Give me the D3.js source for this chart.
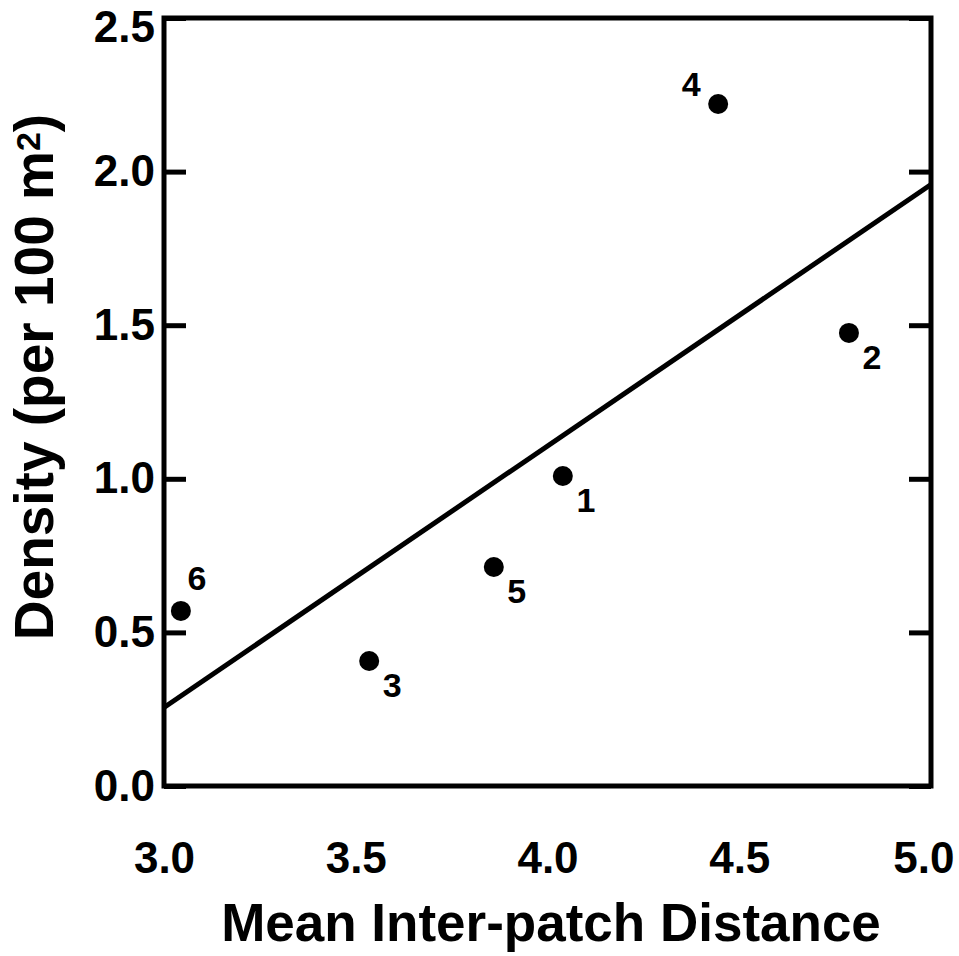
<!DOCTYPE html>
<html>
<head>
<meta charset="utf-8">
<script src="https://cdn.jsdelivr.net/npm/d3@7"></script>
<style>
  html, body { margin: 0; padding: 0; background: #fff; }
  svg { display: block; }
  text { font-family: "Liberation Sans", Arial, sans-serif; font-weight: bold; fill: #000; }
</style>
</head>
<body>
<script>
// ---- data ----
const siteIds   = ["1", "2", "3", "4", "5", "6"];
const distance  = [4.04, 4.786, 3.535, 4.445, 3.86, 3.044];
const density   = [1.009, 1.475, 0.407, 2.22, 0.713, 0.57];
const labelSide = ["se", "se", "se", "nw", "se", "ne"];
const xTicks    = [3.0, 3.5, 4.0, 4.5, 5.0];
const yTicks    = [0.0, 0.5, 1.0, 1.5, 2.0, 2.5];
const xTitle    = "Mean Inter-patch Distance";
const yTitle    = "Density (per 100 m";

const W = 959, H = 956;
const m = { left: 164, right: 28, top: 18, bottom: 170 };
const pw = W - m.left - m.right, ph = H - m.top - m.bottom;

const svg = d3.select("body").append("svg").attr("width", W).attr("height", H);
const g = svg.append("g").attr("transform", `translate(${m.left},${m.top})`);

const x = d3.scaleLinear().domain([3.0, 5.0]).range([0, pw]);
const y = d3.scaleLinear().domain([0.0, 2.5]).range([ph, 0]);

// least-squares fit
const n = distance.length;
const mx = d3.mean(distance), my = d3.mean(density);
let sxy = 0, sxx = 0;
for (let i = 0; i < n; i++) { sxy += (distance[i]-mx)*(density[i]-my); sxx += (distance[i]-mx)**2; }
const slope = sxy / sxx, intercept = my - slope * mx;

// frame
g.append("rect").attr("x", 0).attr("y", 0).attr("width", pw).attr("height", ph)
  .attr("fill", "none").attr("stroke", "#000").attr("stroke-width", 5);

// left axis
const yAxisL = g.append("g").call(d3.axisLeft(y).tickValues(yTicks).tickFormat(d3.format(".1f"))
  .tickSize(-22).tickPadding(9));
yAxisL.select(".domain").remove();
yAxisL.selectAll("line").attr("stroke", "#000").attr("stroke-width", 5);
yAxisL.selectAll("text").attr("font-size", 44).attr("font-family", "Liberation Sans, Arial, sans-serif")
  .attr("font-weight", "bold").attr("fill", "#000")
  .attr("transform", d => y(d) < 9 ? `translate(0,${9 - y(d)})` : null);

// right axis ticks
const yAxisR = g.append("g").attr("transform", `translate(${pw},0)`)
  .call(d3.axisRight(y).tickValues(yTicks).tickSize(-22).tickFormat(""));
yAxisR.select(".domain").remove();
yAxisR.selectAll("line").attr("stroke", "#000").attr("stroke-width", 5);

// bottom axis labels
const xAxis = g.append("g").attr("transform", `translate(0,${ph})`)
  .call(d3.axisBottom(x).tickValues(xTicks).tickFormat(d3.format(".1f")).tickSize(0).tickPadding(56));
xAxis.select(".domain").remove();
xAxis.selectAll("text").attr("font-size", 44).attr("font-family", "Liberation Sans, Arial, sans-serif")
  .attr("font-weight", "bold").attr("fill", "#000");
xAxis.selectAll("text").each(function(d) {
  const bb = this.getBBox();
  const right = m.left + x(d) + bb.width / 2;
  const left = m.left + x(d) - bb.width / 2;
  let shift = 0;
  if (right > W - 5) shift = (W - 5) - right;
  if (left < 130) shift = 130 - left;
  if (shift) d3.select(this).attr("dx", shift);
});

// regression line
g.append("line")
  .attr("x1", x(3.0)).attr("y1", y(intercept + slope * 3.0))
  .attr("x2", x(5.0)).attr("y2", y(intercept + slope * 5.0))
  .attr("stroke", "#000").attr("stroke-width", 5);

// points
g.selectAll("circle.pt").data(distance).join("circle").attr("class", "pt")
  .attr("cx", (d) => x(d)).attr("cy", (d, i) => y(density[i])).attr("r", 10).attr("fill", "#000");

// point labels
const off = { se: [23, 24], nw: [-27, -20], ne: [16, -33] };
g.selectAll("text.lbl").data(siteIds).join("text").attr("class", "lbl")
  .attr("x", (d, i) => x(distance[i]) + off[labelSide[i]][0])
  .attr("y", (d, i) => y(density[i]) + off[labelSide[i]][1])
  .attr("text-anchor", "middle").attr("dominant-baseline", "central")
  .attr("font-size", 34).text(d => d);

// axis titles
svg.append("text").attr("x", 551).attr("y", 941)
  .attr("text-anchor", "middle").attr("font-size", 53).text(xTitle);

const yt = svg.append("text").attr("transform", `translate(53,377) rotate(-90)`)
  .attr("text-anchor", "middle").attr("font-size", 55);
yt.append("tspan").text(yTitle);
yt.append("tspan").attr("font-size", 34).attr("dy", -13).text("2");
yt.append("tspan").attr("dy", 13).text(")");
</script>
</body>
</html>
